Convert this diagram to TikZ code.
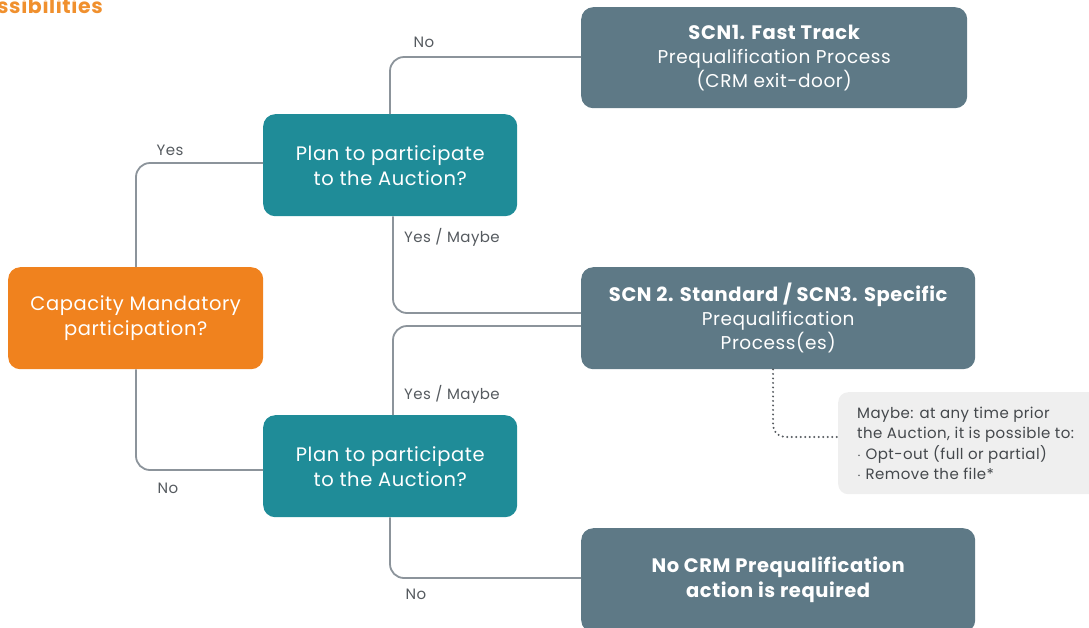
\documentclass[tikz,border=0pt]{standalone}
\usepackage{fontspec}
\setmainfont{Poppins}[LetterSpace=3]
\definecolor{orangebox}{HTML}{F0821E}
\definecolor{tealbox}{HTML}{1F8C98}
\definecolor{slatebox}{HTML}{5E7986}
\definecolor{notebg}{HTML}{EFEFEF}
\definecolor{linecol}{HTML}{8C949B}
\definecolor{labelcol}{HTML}{555A5F}
\definecolor{titlecol}{HTML}{F0902E}
\tikzset{
  boxbase/.style={rounded corners=12pt, text=white, align=center, inner sep=0pt, anchor=north west},
  orangenode/.style={boxbase, fill=orangebox, font=\fontsize{19.5}{25}\selectfont},
  tealnode/.style={boxbase, fill=tealbox, font=\fontsize{19.5}{25}\selectfont},
  slatenode/.style={boxbase, fill=slatebox, font=\fontsize{18.5}{24}\selectfont},
  notenode/.style={rounded corners=10pt, fill=notebg, text=labelcol!80!black, align=left, anchor=north west, inner sep=0pt},
  conn/.style={draw=linecol, line width=1.8pt, rounded corners=14pt},
  lbl/.style={text=labelcol, font=\fontsize{15}{17}\selectfont, inner sep=0pt},
}
\begin{document}
\begin{tikzpicture}[x=1pt,y=-1pt]
\useasboundingbox (0,0) rectangle (1089,627);
\clip (0,0) rectangle (1089,627);
% title fragment
\node[anchor=west, text=titlecol, font=\fontsize{20.5}{22}\selectfont\bfseries, inner sep=0pt] (title) at (-3,5) {ssibilities};
% boxes
\node[orangenode, minimum width=255pt, minimum height=102pt] (cap) at (8,267) {Capacity Mandatory\\participation?};
\node[tealnode, minimum width=254pt, minimum height=102pt] (plan1) at (263,114) {Plan to participate\\to the Auction?};
\node[tealnode, minimum width=254pt, minimum height=102pt] (plan2) at (263,415) {Plan to participate\\to the Auction?};
\node[slatenode, minimum width=386pt, minimum height=101pt] (scn1) at (581,7) {{\fontsize{19.5}{24}\selectfont\bfseries SCN1. Fast Track}\\Prequalification Process\\(CRM exit-door)};
\node[slatenode, minimum width=394pt, minimum height=102pt] (scn2) at (581,267) {{\fontsize{19.5}{24}\selectfont\bfseries SCN 2. Standard / SCN3. Specific}\\Prequalification\\Process(es)};
\node[slatenode, minimum width=394pt, minimum height=104pt, font=\fontsize{19.5}{25}\selectfont\bfseries] (nocrm) at (581,528) {No CRM Prequalification\\action is required};
\node[notenode, minimum width=270pt, minimum height=102pt] (note) at (838,392) {\hspace*{13pt}\begin{minipage}{245pt}\fontsize{15}{20.5}\selectfont Maybe: at any time prior\\the Auction, it is possible to:\\{\bfseries$\cdot$} Opt-out (full or partial)\\{\bfseries$\cdot$} Remove the file*\end{minipage}};
% coordinates
\coordinate (c1) at (136,163);
\coordinate (c2) at (136,470);
\coordinate (c3) at (390,57);
\coordinate (c4) at (393,313);
\coordinate (c5) at (393,326);
\coordinate (c6) at (390,578);
\coordinate (c7) at (773,437);
% connectors
\draw[conn] (cap.north -| c1) |- (plan1.west |- c1);
\draw[conn] (cap.south -| c2) |- (plan2.west |- c2);
\draw[conn] (plan1.north -| c3) |- (scn1.west |- c3);
\draw[conn] (plan1.south -| c4) |- (scn2.west |- c4);
\draw[conn] (plan2.north -| c5) |- (scn2.west |- c5);
\draw[conn] (plan2.south -| c6) |- (nocrm.west |- c6);
\draw[draw=labelcol, line width=2.2pt, dash pattern=on 0pt off 4.5pt, line cap=round, rounded corners=12pt] (scn2.south -| c7) |- (note.west |- c7);
% labels
\node[lbl] (l1) at (170,150) {Yes};
\node[lbl] (l2) at (168,488) {No};
\node[lbl] (l3) at (424,42) {No};
\node[lbl] (l4) at (452,237) {Yes / Maybe};
\node[lbl] (l5) at (452,394) {Yes / Maybe};
\node[lbl] (l6) at (416,594) {No};
\end{tikzpicture}
\end{document}
